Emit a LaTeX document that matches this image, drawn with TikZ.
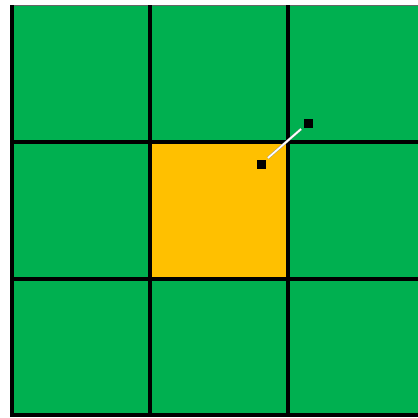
\documentclass[tikz,border=0pt]{standalone}
\begin{document}
\begin{tikzpicture}[x=1pt,y=-1pt,
  gridline/.style={black,line width=3.5pt},
  dot/.style={fill=black,minimum size=9pt,inner sep=0pt,draw=none},
  link/.style={white,line width=1.7pt,shorten <=3pt,shorten >=3pt}]
\definecolor{cellgreen}{HTML}{00B050}
\definecolor{cellorange}{HTML}{FFC000}
\useasboundingbox (0,0) rectangle (418,418);
\begin{scope}
\clip (0,0) rectangle (418,418);
\fill[cellgreen] (12,5) rectangle (430,416);
\fill[cellorange] (150,142) rectangle (288,279);
\draw[black!60,line width=0.8pt] (12,5) -- (430,5);
\foreach \x in {12,150,288} \draw[gridline] (\x,5) -- (\x,416);
\foreach \y in {142,279,415} \draw[gridline] (10.25,\y) -- (430,\y);
\end{scope}
\node[dot] (a) at (261,164) {};
\node[dot] (b) at (308,123) {};
\draw[link,black!40,line width=2.5pt] (a) -- (b);
\draw[link] (a) -- (b);
\end{tikzpicture}
\end{document}
